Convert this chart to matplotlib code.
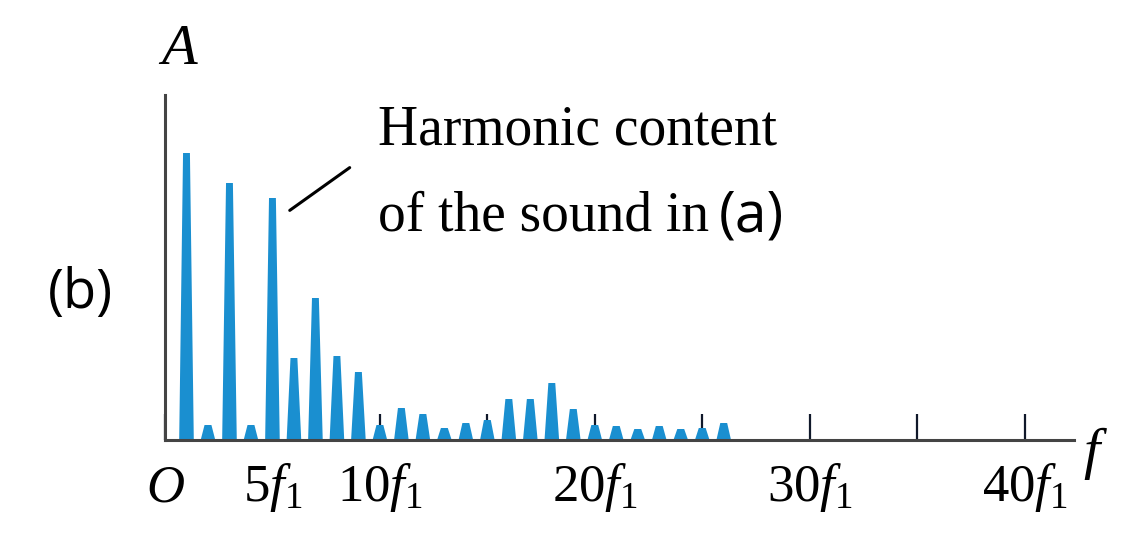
import matplotlib.pyplot as plt

plt.rcParams['mathtext.fontset'] = 'custom'
plt.rcParams['mathtext.rm'] = 'Liberation Serif'
plt.rcParams['mathtext.it'] = 'Liberation Serif:italic'

# harmonic number and amplitude (arbitrary units)
harmonics = list(range(1, 27))
amplitudes = [287, 15, 257, 15, 242, 82, 142, 84, 68, 15, 32, 26, 12,
              17, 20, 41, 41, 57, 31, 15, 14, 11, 14, 11, 12, 17]

tick_pos = [0, 5, 10, 15, 20, 25, 30, 35, 40]
tick_labels = [r'$O$', r'$5f_1$', r'$10f_1$', '', r'$20f_1$', '', r'$30f_1$', '', r'$40f_1$']

blue = '#1a8fd0'

fig = plt.figure(figsize=(11.32, 5.46), dpi=100)
ax = fig.add_axes([165/1132, 106/546, 909/1132, 345/546])

for h, a in zip(harmonics, amplitudes):
    ax.fill([h - 0.34, h - 0.16, h + 0.16, h + 0.34], [0, a, a, 0],
            color=blue, lw=0, zorder=2)

ax.set_xlim(0, 42.3)
ax.set_ylim(0, 345)

for s in ['top', 'right']:
    ax.spines[s].set_visible(False)
for s in ['left', 'bottom']:
    ax.spines[s].set_linewidth(2.2)
    ax.spines[s].set_color('#444444')

ax.set_xticks(tick_pos)
ax.set_xticklabels(tick_labels)
ax.set_yticks([])
ax.tick_params(axis='x', direction='in', length=19, width=1.6,
               color='#10182a', labelsize=38, pad=15)

# axis names
ax.text(0.015, 1.09, r'$A$', transform=ax.transAxes, fontsize=42,
        ha='center', va='baseline')
ax.text(1.01, -0.04, r'$f$', transform=ax.transAxes, fontsize=42,
        ha='left', va='center')

# annotation
ax.annotate('', xy=(5.7, 228), xytext=(8.7, 274),
            arrowprops=dict(arrowstyle='-', color='black', lw=2.2))
fig.text(378/1132, 1 - 145/546, 'Harmonic content', family='Liberation Serif',
         fontsize=40, ha='left', va='baseline')
fig.text(378/1132, 1 - 230/546, 'of the sound in', family='Liberation Serif',
         fontsize=40, ha='left', va='baseline')
fig.text(719/1132, 1 - 232/546, '(a)', family='Open Sans',
         fontsize=41, ha='left', va='baseline')
fig.text(48/1132, 1 - 308/546, '(b)', family='Open Sans',
         fontsize=39, ha='left', va='baseline')

fig.savefig('out.png', dpi=100)
